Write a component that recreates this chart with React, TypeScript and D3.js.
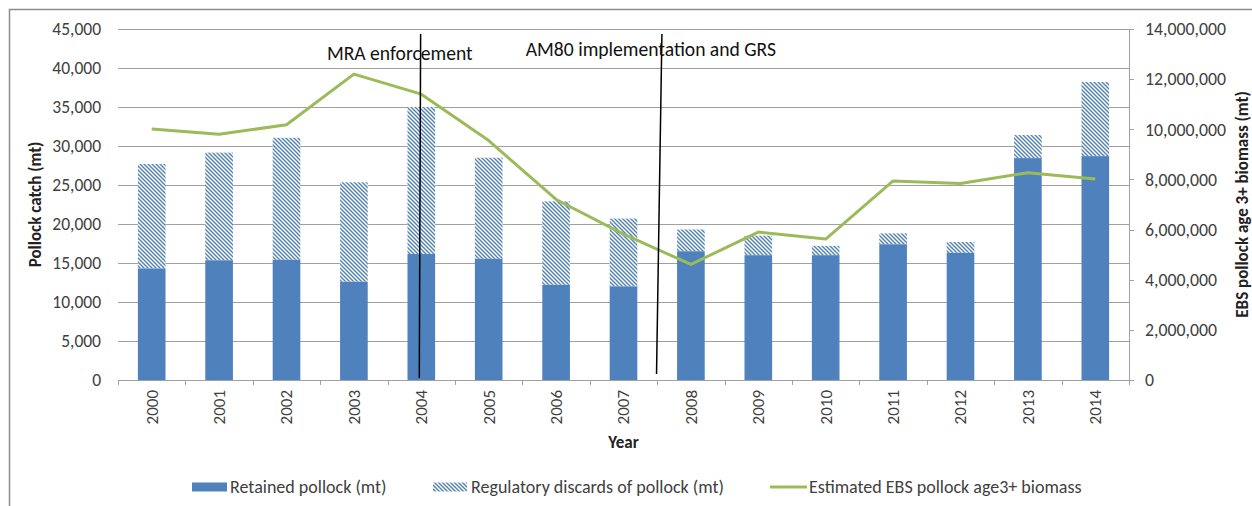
import React, { useRef, useEffect } from "react";
import * as d3 from "d3";

const years = ["2000", "2001", "2002", "2003", "2004", "2005", "2006", "2007", "2008", "2009", "2010", "2011", "2012", "2013", "2014"];
const retained = [14300, 15350, 15420, 12600, 16150, 15550, 12200, 12000, 16500, 16000, 16000, 17400, 16300, 28450, 28700];
const totalCatch = [27700, 29150, 31050, 25350, 35000, 28500, 22900, 20700, 19300, 18500, 17200, 18800, 17700, 31400, 38200];
const biomass = [10010000, 9800000, 10180000, 12200000, 11400000, 9550000, 7200000, 5820000, 4610000, 5900000, 5620000, 7940000, 7840000, 8270000, 8020000];
const leftTicks = [0, 5000, 10000, 15000, 20000, 25000, 30000, 35000, 40000, 45000];
const rightTicks = [0, 2000000, 4000000, 6000000, 8000000, 10000000, 12000000, 14000000];

// annotation lines: category index position (0 = left edge) and catch values
const annoLines = [
  { xTop: 4.49, xBot: 4.47, yTop: 44350, yBot: 250 },
  { xTop: 8.07, xBot: 7.99, yTop: 44350, yBot: 770 },
];
const annoLabels = [
  { text: "MRA enforcement", x: 3.1, y: 41030 },
  { text: "AM80 implementation and GRS", x: 6.05, y: 41540 },
];
const legendItems = ["Retained pollock (mt)", "Regulatory discards of pollock (mt)", "Estimated EBS pollock age3+ biomass"];

const FONT = "Carlito, 'Open Sans', sans-serif";
const BLUE = "#4F81BD";
const GREEN = "#9BBB59";
const GRID = "#a0a0a0";

const Chart = () => {
  const ref = useRef(null);

  useEffect(() => {
    const svg = d3.select(ref.current);
    svg.selectAll("*").remove();

    const width = 1252;
    const height = 506;
    const margin = { top: 29, right: 123, bottom: 126, left: 118 };
    const x0 = margin.left;
    const x1 = width - margin.right;
    const y0 = height - margin.bottom;

    const defs = svg.append("defs");
    const pat = defs
      .append("pattern")
      .attr("id", "hatch")
      .attr("patternUnits", "userSpaceOnUse")
      .attr("width", 4)
      .attr("height", 4);
    pat.append("rect").attr("width", 4).attr("height", 4).attr("fill", "white");
    pat
      .append("path")
      .attr("d", "M-1,-1 L5,5 M-1,3 L1,5 M3,-1 L5,1")
      .attr("stroke", BLUE)
      .attr("stroke-width", 1.4);

    // outer border (only top and left visible)
    svg
      .append("path")
      .attr("d", `M9.5,${height} L9.5,9.5 L${width},9.5`)
      .attr("fill", "none")
      .attr("stroke", "#8c8c8c")
      .attr("stroke-width", 1.5);

    const xScale = d3.scaleBand().domain(years).range([x0, x1]).paddingInner(0.59).paddingOuter(0.295);
    const xBand = d3.scaleBand().domain(years).range([x0, x1]);
    const xIdx = d3.scaleLinear().domain([0, years.length]).range([x0, x1]);
    const yL = d3.scaleLinear().domain([0, 45000]).range([y0, margin.top]);
    const yR = d3.scaleLinear().domain([0, 14000000]).range([y0, margin.top]);

    // gridlines
    svg
      .append("g")
      .selectAll("line")
      .data(leftTicks.slice(1))
      .join("line")
      .attr("x1", x0)
      .attr("x2", x1)
      .attr("y1", (d) => Math.round(yL(d)) + 0.5)
      .attr("y2", (d) => Math.round(yL(d)) + 0.5)
      .attr("stroke", GRID)
      .attr("stroke-width", 1);

    // left tick labels
    svg
      .append("g")
      .selectAll("text")
      .data(leftTicks)
      .join("text")
      .attr("x", x0 - 17)
      .attr("y", (d) => yL(d))
      .attr("dy", "0.35em")
      .attr("text-anchor", "end")
      .style("font-family", FONT)
      .style("font-size", "17.5px")
      .style("fill", "#404040")
      .text((d) => d3.format(",")(d));

    // right axis
    const rAxis = svg.append("g");
    rAxis
      .append("line")
      .attr("x1", x1 + 0.5)
      .attr("x2", x1 + 0.5)
      .attr("y1", margin.top)
      .attr("y2", y0)
      .attr("stroke", GRID);
    rAxis
      .selectAll("line.t")
      .data(rightTicks)
      .join("line")
      .attr("class", "t")
      .attr("x1", x1)
      .attr("x2", x1 + 5)
      .attr("y1", (d) => Math.round(yR(d)) + 0.5)
      .attr("y2", (d) => Math.round(yR(d)) + 0.5)
      .attr("stroke", GRID);
    rAxis
      .selectAll("text")
      .data(rightTicks)
      .join("text")
      .attr("x", x1 + 16)
      .attr("y", (d) => yR(d))
      .attr("dy", "0.35em")
      .style("font-family", FONT)
      .style("font-size", "17.8px")
      .style("fill", "#404040")
      .text((d) => d3.format(",")(d));

    // bars
    const bars = svg.append("g");
    bars
      .selectAll("rect.tot")
      .data(years)
      .join("rect")
      .attr("class", "tot")
      .attr("x", (d) => xScale(d))
      .attr("width", xScale.bandwidth())
      .attr("y", (d, i) => yL(totalCatch[i]))
      .attr("height", (d, i) => yL(retained[i]) - yL(totalCatch[i]))
      .attr("fill", "url(#hatch)");
    bars
      .selectAll("rect.ret")
      .data(years)
      .join("rect")
      .attr("class", "ret")
      .attr("x", (d) => xScale(d))
      .attr("width", xScale.bandwidth())
      .attr("y", (d, i) => yL(retained[i]))
      .attr("height", (d, i) => y0 - yL(retained[i]))
      .attr("fill", BLUE);

    // x axis line and ticks
    svg
      .append("line")
      .attr("x1", x0)
      .attr("x2", x1)
      .attr("y1", y0 + 0.5)
      .attr("y2", y0 + 0.5)
      .attr("stroke", GRID);
    svg
      .append("g")
      .selectAll("line")
      .data(d3.range(years.length + 1))
      .join("line")
      .attr("x1", (d) => Math.round(xIdx(d)) + 0.5)
      .attr("x2", (d) => Math.round(xIdx(d)) + 0.5)
      .attr("y1", y0)
      .attr("y2", y0 + 5)
      .attr("stroke", GRID);

    // year labels
    svg
      .append("g")
      .selectAll("text")
      .data(years)
      .join("text")
      .attr("transform", (d) => `translate(${xBand(d) + xBand.bandwidth() / 2},${y0 + 10}) rotate(-90)`)
      .attr("dy", "0.35em")
      .attr("text-anchor", "end")
      .style("font-family", FONT)
      .style("font-size", "17px")
      .style("fill", "#404040")
      .text((d) => d);

    // biomass line
    const line = d3
      .line()
      .x((d, i) => xBand(years[i]) + xBand.bandwidth() / 2)
      .y((d) => yR(d));
    svg
      .append("path")
      .datum(biomass)
      .attr("fill", "none")
      .attr("stroke", GREEN)
      .attr("stroke-width", 3)
      .attr("stroke-linejoin", "round")
      .attr("d", line);

    // annotations
    svg
      .append("g")
      .selectAll("line")
      .data(annoLines)
      .join("line")
      .attr("x1", (d) => xIdx(d.xTop))
      .attr("x2", (d) => xIdx(d.xBot))
      .attr("y1", (d) => yL(d.yTop))
      .attr("y2", (d) => yL(d.yBot))
      .attr("stroke", "black")
      .attr("stroke-width", 1.5);
    svg
      .append("g")
      .selectAll("text")
      .data(annoLabels)
      .join("text")
      .attr("x", (d) => xIdx(d.x))
      .attr("y", (d) => yL(d.y))
      .style("font-family", FONT)
      .style("font-size", "19.6px")
      .style("fill", "#111")
      .text((d) => d.text);

    // axis titles
    const titleStyle = (t) =>
      t
        .attr("dy", "0.35em")
        .attr("text-anchor", "middle")
        .style("font-family", FONT)
        .style("font-size", "17px")
        .style("font-weight", "bold")
        .style("fill", "#222");
    svg.append("text").attr("x", (x0 + x1) / 2).attr("y", 442).call(titleStyle).text("Year");
    svg
      .append("text")
      .attr("transform", `translate(35,${(margin.top + y0) / 2}) rotate(-90)`)
      .call(titleStyle)
      .text("Pollock catch (mt)");
    svg
      .append("text")
      .attr("transform", `translate(1242,${(margin.top + y0) / 2}) rotate(-90)`)
      .call(titleStyle)
      .text("EBS pollock age 3+ biomass (mt)");

    // legend
    const legY = 487;
    const legX = [192, 433, 770];
    const leg = svg.append("g");
    leg.append("rect").attr("x", legX[0]).attr("y", legY - 4.5).attr("width", 35).attr("height", 9).attr("fill", BLUE);
    leg.append("rect").attr("x", legX[1]).attr("y", legY - 4.5).attr("width", 34).attr("height", 9).attr("fill", "url(#hatch)");
    leg
      .append("line")
      .attr("x1", legX[2])
      .attr("x2", legX[2] + 37)
      .attr("y1", legY)
      .attr("y2", legY)
      .attr("stroke", GREEN)
      .attr("stroke-width", 3);
    leg
      .selectAll("text")
      .data(legendItems)
      .join("text")
      .attr("x", (d, i) => legX[i] + [38, 38, 39][i])
      .attr("y", legY)
      .attr("dy", "0.35em")
      .style("font-family", FONT)
      .style("font-size", "18px")
      .style("fill", "#404040")
      .text((d) => d);
  }, []);

  return <svg width={1252} height={506} ref={ref} style={{ position: "absolute", left: 0, top: 0, background: "white" }}></svg>;
};

export default function App() {
  return <Chart />;
}
